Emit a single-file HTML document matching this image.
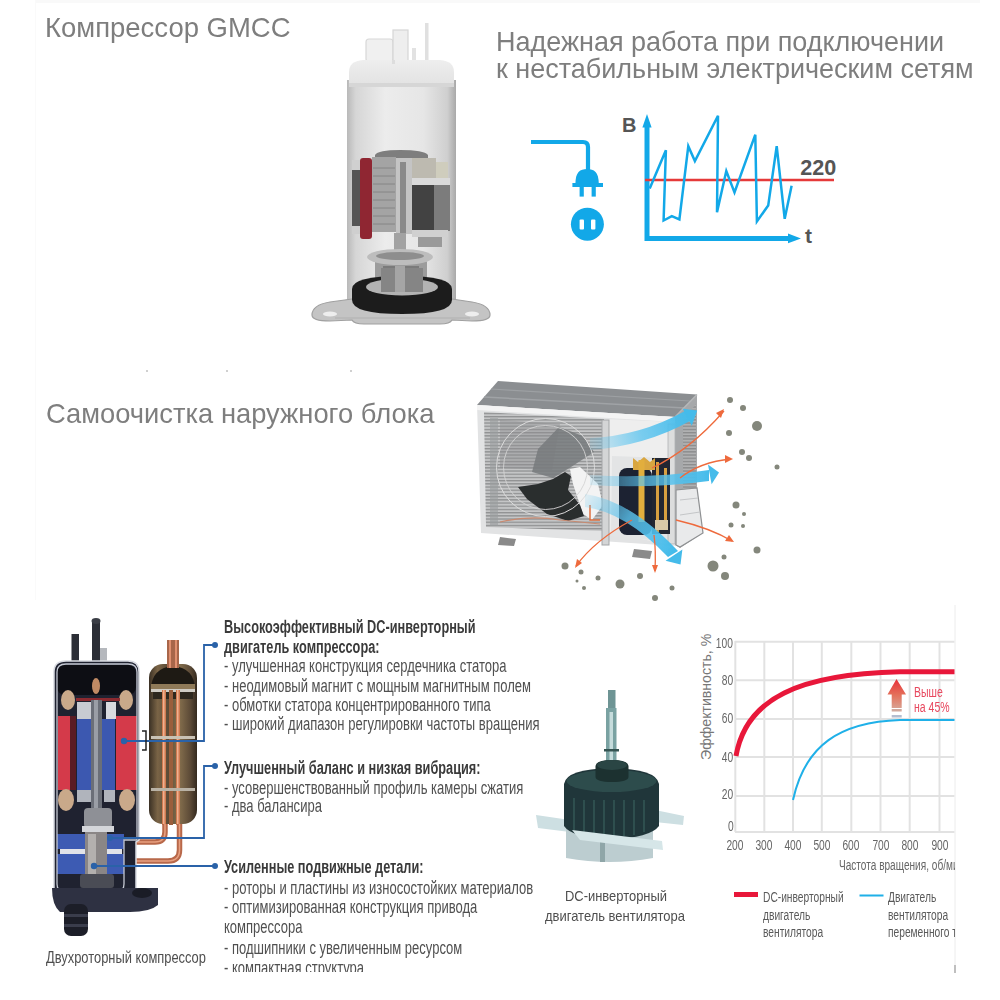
<!DOCTYPE html>
<html><head><meta charset="utf-8">
<style>
html,body{margin:0;padding:0;background:#fff;width:1000px;height:1000px;overflow:hidden;position:relative;font-family:"Liberation Sans",sans-serif;}
.t{position:absolute;white-space:nowrap;line-height:1;}
.title{font-size:28.5px;color:#7e7e7e;}
.nar{transform-origin:0 0;}
.bl{position:absolute;left:224px;white-space:nowrap;font-size:18px;color:#505050;transform:scaleX(0.7235);transform-origin:0 0;line-height:1;}
.bl b{color:#3a3a3a;}
svg{position:absolute;left:0;top:0;}
.ax{position:absolute;right:266.8px;font-size:15.5px;color:#666;line-height:1;transform:scaleX(0.66);transform-origin:100% 0;white-space:nowrap;}
.xl{position:absolute;top:836.5px;width:0;display:flex;justify-content:center;font-size:15.5px;color:#666;line-height:1;white-space:nowrap;}
.xl span{display:inline-block;transform:scaleX(0.66);}
.lg{position:absolute;font-size:14px;color:#5a5a5a;line-height:1;transform:scaleX(0.73);transform-origin:0 0;white-space:nowrap;}
</style></head><body>

<div style="position:absolute;left:35px;top:0;width:945px;height:3px;background:#f9f9f9;"></div>
<div style="position:absolute;left:35px;top:0;width:1px;height:600px;background:#fafafa;"></div>
<div style="position:absolute;left:146px;top:370px;width:2px;height:2px;background:#d0d0d0;"></div>
<div style="position:absolute;left:226px;top:370px;width:2px;height:2px;background:#d0d0d0;"></div>
<div style="position:absolute;left:350px;top:370px;width:2px;height:2px;background:#d0d0d0;"></div>
<!-- Titles -->
<div class="t title" id="t1" style="left:45px;top:13px;transform:scaleX(0.964);transform-origin:0 0;">Компрессор GMCC</div>
<div class="t title" id="t2a" style="left:496px;top:27px;transform:scaleX(0.947);transform-origin:0 0;">Надежная работа при подключении</div>
<div class="t title" id="t2b" style="left:496px;top:54px;transform:scaleX(0.947);transform-origin:0 0;">к нестабильным электрическим сетям</div>
<div class="t title" id="t3" style="left:46px;top:399px;transform:scaleX(0.959);transform-origin:0 0;">Самоочистка наружного блока</div>

<svg width="1000" height="1000" viewBox="0 0 1000 1000" id="main">
  <defs>
    <filter id="soft" x="-5%" y="-5%" width="110%" height="110%"><feGaussianBlur stdDeviation="0.7"/></filter>
    <linearGradient id="cylG" x1="0" y1="0" x2="1" y2="0">
      <stop offset="0" stop-color="#b9b9b9"/>
      <stop offset="0.08" stop-color="#d6d6d6"/>
      <stop offset="0.35" stop-color="#ececec"/>
      <stop offset="0.7" stop-color="#e6e6e6"/>
      <stop offset="0.92" stop-color="#cfcfcf"/>
      <stop offset="1" stop-color="#a9a9a9"/>
    </linearGradient>
    <linearGradient id="capG" x1="0" y1="0" x2="0" y2="1">
      <stop offset="0" stop-color="#eeeeee"/>
      <stop offset="1" stop-color="#e2e2e2"/>
    </linearGradient>
    <linearGradient id="plateG" x1="0" y1="0" x2="0" y2="1">
      <stop offset="0" stop-color="#c9c9c9"/>
      <stop offset="1" stop-color="#a7a7a7"/>
    </linearGradient>
  </defs>
  <!-- ===== compressor photo 1 ===== -->
  <g id="comp1" filter="url(#soft)">
    <!-- pipes on top -->
    <rect x="366" y="39" width="27" height="23" rx="3" fill="#f0f0f0" stroke="#d8d8d8" stroke-width="1.2"/>
    <rect x="393" y="30" width="15" height="32" fill="#eeeeee" stroke="#d6d6d6" stroke-width="1.2"/>
    <rect x="412" y="48" width="4" height="14" fill="#e2e2e2"/>
    <rect x="425" y="23" width="3.5" height="38" fill="#e0e0e0"/>
    <!-- body -->
    <rect x="347" y="80" width="109" height="222" fill="url(#cylG)"/>
    <path d="M349,86 V72 Q349,61 363,60 H440 Q454,61 454,72 V86 Z" fill="url(#capG)"/>
    <rect x="349" y="83" width="105" height="4" fill="#d6d6d6"/>
    <rect x="392" y="60" width="3" height="4" fill="#ddd"/>
    <!-- motor top ring -->
    <path d="M375,155 Q378,150 400,150 Q424,150 428,155 V162 H375 Z" fill="#7e7e7e"/>
    <!-- left coil -->
    <rect x="352" y="160" width="11" height="10" fill="#d0d0d0"/>
    <rect x="352" y="170" width="11" height="57" fill="#555"/>
    <rect x="352" y="226" width="11" height="8" fill="#cfcfcf"/>
    <!-- red strip -->
    <rect x="360" y="158" width="12" height="81" rx="3" fill="#8f2731"/>
        <!-- stator -->
    <rect x="372" y="157" width="24" height="75" fill="#a4a4a4"/>
    <g stroke="#7d7d7d" stroke-width="0.8">
      <line x1="373" y1="168" x2="395" y2="168"/><line x1="373" y1="176" x2="395" y2="176"/>
      <line x1="373" y1="184" x2="395" y2="184"/><line x1="373" y1="192" x2="395" y2="192"/>
      <line x1="373" y1="200" x2="395" y2="200"/><line x1="373" y1="208" x2="395" y2="208"/>
      <line x1="373" y1="216" x2="395" y2="216"/><line x1="373" y1="224" x2="395" y2="224"/>
    </g>
    <rect x="396" y="158" width="17" height="76" fill="#c4c4c4"/>
    <rect x="400" y="162" width="6" height="72" fill="#8a8a8a"/>
    <!-- right coil -->
    <rect x="412" y="158" width="24" height="20" fill="#bdbab0"/>
    <rect x="436" y="162" width="12" height="16" fill="#cfcdbd"/>
    <rect x="412" y="178" width="38" height="7" fill="#dadada"/>
    <rect x="412" y="185" width="22" height="46" fill="#424242"/>
    <rect x="434" y="185" width="16" height="46" fill="#7c7c7c"/>
    <rect x="412" y="230" width="36" height="7" fill="#d0d0d0"/>
    <rect x="418" y="237" width="24" height="10" fill="#9a9a9a"/>
    <!-- shaft and pump -->
    <rect x="394" y="233" width="12" height="30" fill="#a2a2a2"/>
    <rect x="375" y="257" width="52" height="32" fill="#9c9c9c"/>
    <ellipse cx="400" cy="257" rx="33" ry="8" fill="#bdbdbd"/>
    <ellipse cx="400" cy="256" rx="24" ry="4" fill="#8e8e8e"/>
    <rect x="383" y="266" width="36" height="24" fill="#7a7a7a"/>
    <!-- plate -->
    <path d="M312,315 Q312,305 330,302 L352,299 H452 L472,302 Q490,305 490,315 Q490,321 472,321 L452,320 Q450,324 440,324 H364 Q354,324 352,320 L330,321 Q312,321 312,315 Z" fill="#c4c4c4" stroke="#a0a0a0" stroke-width="1.2"/>
    <path d="M335,318 H470" stroke="#b0b0b0" stroke-width="1"/>
    <ellipse cx="330" cy="314" rx="7" ry="2.5" fill="#eeeeee"/>
    <ellipse cx="472" cy="314" rx="7" ry="2.5" fill="#eeeeee"/>
    <!-- black ring -->
    <path d="M352,289 Q352,276 402,276 Q452,276 452,289 V300 Q452,314 402,314 Q352,314 352,300 Z" fill="#1e1e1e"/>
    <ellipse cx="402" cy="287" rx="36" ry="8.5" fill="#b3b3b3"/>
    <rect x="381" y="268" width="42" height="24" fill="#858585"/>
    <rect x="395" y="266" width="10" height="26" fill="#a5a5a5"/>
  </g>

  <!-- ===== outdoor unit ===== -->
  <defs>
    <pattern id="grill" x="0" y="0" width="4" height="3.2" patternUnits="userSpaceOnUse">
      <rect width="4" height="3.2" fill="#c4c5c6"/>
      <rect y="0" width="4" height="1.3" fill="#8f9192"/>
    </pattern>
    <pattern id="grill2" x="0" y="0" width="4" height="3.2" patternUnits="userSpaceOnUse">
      <rect width="4" height="3.2" fill="#b0b1b2"/>
      <rect y="0" width="4" height="1.3" fill="#8a8b8c"/>
    </pattern>
    <linearGradient id="ar1" gradientUnits="userSpaceOnUse" x1="590" y1="445" x2="690" y2="415">
      <stop offset="0" stop-color="#5cc4ef" stop-opacity="0.15"/>
      <stop offset="0.5" stop-color="#5cc4ef" stop-opacity="0.8"/>
      <stop offset="1" stop-color="#44bbea" stop-opacity="1"/>
    </linearGradient>
    <linearGradient id="ar2" gradientUnits="userSpaceOnUse" x1="590" y1="478" x2="710" y2="474">
      <stop offset="0" stop-color="#5cc4ef" stop-opacity="0.15"/>
      <stop offset="0.5" stop-color="#5cc4ef" stop-opacity="0.75"/>
      <stop offset="1" stop-color="#44bbea" stop-opacity="1"/>
    </linearGradient>
    <linearGradient id="ar3" gradientUnits="userSpaceOnUse" x1="585" y1="500" x2="672" y2="555">
      <stop offset="0" stop-color="#5cc4ef" stop-opacity="0.15"/>
      <stop offset="0.45" stop-color="#5cc4ef" stop-opacity="0.8"/>
      <stop offset="1" stop-color="#44bbea" stop-opacity="1"/>
    </linearGradient>
  </defs>
  <g id="odu" filter="url(#soft)">
    <!-- right side panel -->
    <path d="M675,417 L697,395 V490 L703,533 L680,548 L675,545 Z" fill="#a6a8aa"/>
    <path d="M683,420 L696,404 V488 L683,490 Z" fill="url(#grill2)"/>
    <path d="M676,490 L697,488 L703,533 L680,547 L676,545 Z" fill="#e9eaeb" stroke="#8f9193" stroke-width="1.2"/>
    <path d="M680,500 L698,498 M680,515 L700,512" stroke="#c4c6c8" stroke-width="1"/>
    <!-- top slab -->
    <path d="M477,405 L498,381 L697,394.5 L675,417 Z" fill="#8b8e91"/>
    <path d="M484,397 L685,408" stroke="#a0a3a6" stroke-width="1.5"/>
    <path d="M491,389 L690,401" stroke="#9da0a3" stroke-width="1.2"/>
    <path d="M675,417 L697,394.5" stroke="#b5b7b9" stroke-width="1.5"/>
    <!-- front frame -->
    <path d="M477,405 L675,417 L675,546 L481,533 Z" fill="#e2e3e4"/>
    <path d="M477,405 L675,417 L675,422 L477,410 Z" fill="#f4f4f4"/>
    <!-- fan grill -->
    <path d="M484,412 L604,419 L603,531 L486,527 Z" fill="url(#grill)"/>
    <path d="M490,418 L498,418 L498,526 L490,526 Z" fill="#9a9c9e" opacity="0.6"/>
    <path d="M500,420 L560,424 L552,470 L500,468 Z" fill="#8d8f91" opacity="0.45"/>
    <!-- fan blades -->
    <path d="M538,449 L559,427 L583,436 L594,452 L571,467 L553,478 L532,472 Z" fill="#777a7c" opacity="0.85"/>
    <path d="M570,469 L580,467 L598,484 L603,505 L592,520 L583,514 L573,484 Z" fill="#f3f3f3"/>
    <path d="M518,487 L538,484 L553,479 L565,472 L571,476 L568,490 L580,505 L584,516 L568,521 L547,514 L527,499 Z" fill="#2c2d2f"/>
    <circle cx="545.5" cy="467.5" r="49" fill="none" stroke="#dcdcdc" stroke-width="1"/>
    <circle cx="545.5" cy="467.5" r="42" fill="none" stroke="#d4d4d4" stroke-width="0.9"/>
    <!-- bottom pipes -->
    <path d="M500,522 Q530,515 560,520 L600,524" fill="none" stroke="#c98a70" stroke-width="1.2"/>
    <path d="M590,505 V520 H600" fill="none" stroke="#e07040" stroke-width="1.5"/>
    <!-- right compartment -->
    <path d="M604,419 L675,422 L675,546 L603,531 Z" fill="#eeeeee"/>
    <rect x="602" y="420" width="7" height="125" fill="#d4d5d6" stroke="#a3a5a7" stroke-width="1"/>
    <path d="M612,456 L668,458 L668,542 L611,536 Z" fill="#e3e4e5"/>
    <rect x="668" y="424" width="7" height="120" fill="#dcdddd" stroke="#b0b2b4" stroke-width="0.8"/>
    <rect x="619" y="468" width="33" height="67" rx="8" fill="#1b2030"/>
    <rect x="652" y="458" width="18" height="76" fill="#232833"/>
    <path d="M633,470 V458 L638,462 L644,457 L650,462 L655,458 V470 Z" fill="#d9a640"/>
    <rect x="638.5" y="460" width="6" height="62" fill="#e2ae3e"/>
    <rect x="656" y="462" width="3" height="70" fill="#d8a040"/>
    <rect x="664" y="468" width="3" height="60" fill="#d8a040"/>
    <rect x="655" y="520" width="13" height="10" fill="#d8c8a8"/>
    <!-- feet -->
    <path d="M500,537 L516,539 L514,546 L498,545 Z" fill="#8a8a8a"/>
    <path d="M634,549 L652,551 L650,559 L632,557 Z" fill="#8a8a8a"/>
    <!-- blue arrows -->
    <path d="M590,438 Q640,436 685,411 L690,421 Q645,446 590,450 Z" fill="url(#ar1)"/>
    <path d="M682.8,408.7 L697.2,410.5 L691.8,425.8 Z" fill="#44bbea"/>
    <path d="M590,475 Q650,479 709,470 L709,481 Q650,489 590,485 Z" fill="url(#ar2)"/>
    <path d="M708,464.5 L719,472.6 L711.6,484.3 Z" fill="#44bbea"/>
    <path d="M585,494 Q630,500 678,551 L668,557 Q625,512 585,507 Z" fill="url(#ar3)"/>
    <path d="M665.6,560.8 L682.4,549.5 L680.5,564.5 Z" fill="#44bbea"/>
    <!-- orange arrows -->
    <g fill="none" stroke="#ee6a3c" stroke-width="1.3">
      <path d="M652,468 Q690,450 724,411"/>
      <path d="M680,478 Q700,462 731,459"/>
      <path d="M676,520 Q710,528 732,541"/>
      <path d="M632,520 Q595,540 576,566"/>
      <path d="M654,535 Q656,550 655,571"/>
    </g>
    <g fill="#ee6a3c">
      <path d="M724,409 L716,413 L721,418 Z"/>
      <path d="M733,459 L725,455 L725,463 Z"/>
      <path d="M734,542 L725,541 L729,535 Z"/>
      <path d="M575,568 L577,559 L582,563 Z"/>
      <path d="M655,573 L652,565 L658,565 Z"/>
    </g>
    <!-- dust -->
    <g fill="#84877b">
      <circle cx="565" cy="566" r="3.5"/><circle cx="581" cy="572" r="2.5"/><circle cx="577" cy="581" r="1.5"/>
      <circle cx="584" cy="588" r="2"/><circle cx="598" cy="578" r="2.5"/><circle cx="620" cy="584" r="4.5"/>
      <circle cx="640" cy="576" r="3"/><circle cx="655" cy="598" r="3"/><circle cx="672" cy="588" r="2.5"/>
      <circle cx="713" cy="566" r="5.5"/><circle cx="725" cy="576" r="4"/><circle cx="724" cy="557" r="2.5"/>
      <circle cx="757" cy="550" r="3.5"/><circle cx="736" cy="505" r="3.5"/><circle cx="744" cy="514" r="2"/>
      <circle cx="731" cy="525" r="2.5"/><circle cx="743" cy="526" r="2"/>
      <circle cx="730" cy="400" r="3"/><circle cx="743" cy="408" r="3"/><circle cx="757" cy="426" r="5"/>
      <circle cx="729" cy="433" r="3"/><circle cx="742" cy="452" r="3"/><circle cx="749" cy="458" r="3"/>
      <circle cx="777" cy="467" r="2.5"/>
    </g>
  </g>

  <!-- ===== compressor cutaway ===== -->
  <g id="comp2">
    <!-- top pipes -->
    <rect x="71.5" y="634" width="7.5" height="28" fill="#2b2e36"/>
    <rect x="92" y="622" width="8" height="40" fill="#2b2e36"/>
    <ellipse cx="96" cy="621" rx="4.5" ry="3" fill="#3a3d45"/>
    <rect x="100" y="648" width="7" height="14" fill="#b5b8bd"/>
    <!-- accumulator -->
    <defs>
      <linearGradient id="accG" x1="0" y1="0" x2="1" y2="0">
        <stop offset="0" stop-color="#3a3024"/>
        <stop offset="0.18" stop-color="#7a6446"/>
        <stop offset="0.4" stop-color="#5a4a36"/>
        <stop offset="0.62" stop-color="#86704e"/>
        <stop offset="0.85" stop-color="#5e4c38"/>
        <stop offset="1" stop-color="#33291e"/>
      </linearGradient>
    </defs>
    <rect x="149" y="664" width="48" height="160" rx="14" fill="url(#accG)"/>
    <path d="M151,690 Q151,668 173,666 Q195,668 195,690 Z" fill="#1e1a14"/>
    <rect x="151" y="684" width="44" height="5" fill="#8f7a58"/>
    <rect x="151" y="689" width="44" height="3" fill="#d0ccc4"/>
    <rect x="153" y="692" width="40" height="7" fill="#2e281e"/>
    <rect x="162" y="690" width="4" height="135" fill="#d07a50"/>
    <rect x="163" y="690" width="1.5" height="135" fill="#f0b090"/>
    <rect x="176" y="690" width="4" height="135" fill="#d07a50"/>
    <rect x="177" y="690" width="1.5" height="135" fill="#f0b090"/>
    <rect x="169" y="690" width="4" height="135" fill="#9a5e3c"/>
    <rect x="167" y="640" width="12" height="28" fill="#a8664a"/>
    <rect x="169" y="640" width="2" height="28" fill="#e09070"/>
    <rect x="175" y="640" width="2" height="28" fill="#e09070"/>
    <rect x="151" y="736" width="44" height="3" fill="#c9c2b5"/>
    <rect x="151" y="788" width="44" height="3" fill="#b9b2a5"/>
    <!-- pipes down -->
    <path d="M165,824 V832 Q165,842 155,842 H136" fill="none" stroke="#b8684a" stroke-width="5.5"/>
    <path d="M165,824 V832 Q165,842 155,842 H136" fill="none" stroke="#e8a080" stroke-width="1.5"/>
    <path d="M179.5,824 V850 Q179.5,861 168,861 H136" fill="none" stroke="#b8684a" stroke-width="5.5"/>
    <path d="M179.5,824 V850 Q179.5,861 168,861 H136" fill="none" stroke="#e8a080" stroke-width="1.5"/>
    <!-- shell -->
    <path d="M54,672 Q54,661 66,661 H128 Q139,661 139,672 V840 L136,842 V890 Q136,898 128,898 H62 Q54,898 54,890 Z" fill="#1f2230" stroke="#d9dbe2" stroke-width="1.5"/>
    <!-- inside top dark -->
    <rect x="57" y="665" width="79" height="30" rx="8" fill="#0d0e14"/>
    <!-- windings -->
    <ellipse cx="68" cy="700" rx="7" ry="10" fill="#c9a98a"/>
    <ellipse cx="126" cy="700" rx="7" ry="10" fill="#c9a98a"/>
    <ellipse cx="96" cy="686" rx="4" ry="8" fill="#c08a64"/>
    <rect x="76" y="698" width="44" height="3" fill="#8c2a30"/>
    <!-- light blocks above rotor -->
    <rect x="77" y="702" width="14" height="17" fill="#c8cbd2"/>
    <rect x="106" y="702" width="10" height="17" fill="#d8dadf"/>
    <!-- stators and rotor -->
    <rect x="58" y="716" width="12" height="74" fill="#d43a4a"/>
    <rect x="70" y="716" width="6" height="74" fill="#5a1c24"/>
    <rect x="77" y="719" width="14" height="71" fill="#3c58b0"/>
    <rect x="91" y="700" width="11" height="122" fill="#6b6f78"/>
    <rect x="94" y="700" width="4" height="122" fill="#9a9ea6"/>
    <rect x="102" y="719" width="13" height="71" fill="#3c58b0"/>
    <rect x="116" y="716" width="21" height="74" fill="#d43a4a"/>
    <!-- bottom windings -->
    <rect x="77" y="790" width="14" height="12" fill="#b0b4bc"/>
    <rect x="104" y="790" width="11" height="12" fill="#b0b4bc"/>
    <ellipse cx="66" cy="800" rx="8" ry="11" fill="#c9a98a"/>
    <ellipse cx="127" cy="800" rx="8" ry="11" fill="#c9a98a"/>
    <!-- crankshaft area -->
    <rect x="84" y="808" width="28" height="20" rx="4" fill="#8e9096"/>
    <rect x="82" y="826" width="32" height="6" fill="#d4d6da"/>
    <!-- pump blue -->
    <rect x="57" y="834" width="67" height="15" fill="#3d5bb3"/>
    <rect x="60" y="849" width="62" height="5" fill="#e1e3e8"/>
    <rect x="57" y="854" width="67" height="20" fill="#3d5bb3"/>
    <rect x="85" y="832" width="22" height="44" fill="#8a8686"/>
    <rect x="88" y="834" width="8" height="40" fill="#b3b0ae"/>
    <rect x="80" y="874" width="34" height="14" rx="3" fill="#4a4c55"/>
    <!-- inner cutaway outline -->
    <path d="M57,672 Q57,664 66,664 H128 Q137,664 137,672 V840 H124 V884 Q124,892 116,892 H65 Q57,892 57,884 Z" fill="none" stroke="#c5c9d3" stroke-width="1.3"/>
    <!-- base -->
    <path d="M52,888 H158 V905 Q150,912 130,912 H60 Q52,905 52,888 Z" fill="#2e3142"/>
    <ellipse cx="142" cy="893" rx="10" ry="5" fill="#1a1c26"/>
    <rect x="64" y="904" width="24" height="32" rx="7" fill="#1c1e28"/>
    <rect x="64" y="914" width="24" height="3" fill="#3a3d4c"/>
    <rect x="64" y="924" width="24" height="3" fill="#3a3d4c"/>
  </g>

  <!-- ===== fan motor ===== -->
  <g id="fan">
    <rect x="608" y="690" width="7.5" height="20" fill="#6e9494"/>
    <rect x="606" y="708" width="10.5" height="56" fill="#7aa2a2"/>
    <rect x="609.5" y="712" width="3.5" height="50" fill="#c6dcdc"/>
    <rect x="604" y="749" width="15" height="2.5" fill="#355452"/>
    <!-- bracket left/right -->
    <path d="M536,815 L570,820 L570,832 L538,828 Z" fill="#cddfe2"/>
    <path d="M655,810 L684,816 L683,825 L655,822 Z" fill="#cddfe2"/>
    <!-- silver bottom -->
    <path d="M566,828 H653 V858 Q610,866 566,858 Z" fill="#bccdd0"/>
    <rect x="600" y="836" width="5" height="26" fill="#8fa6a8"/>
    <!-- body -->
    <path d="M564,784 Q566,769 611,768 Q657,769 659,784 V826 Q650,838 611,839 Q572,838 564,826 Z" fill="#20363a"/>
    <ellipse cx="611.5" cy="781" rx="45" ry="11" fill="#2d4c4c"/>
    <!-- hub -->
    <path d="M595.5,766 Q596,760 612,760 Q628,760 628.5,766 V777 Q628,782 612,782 Q596,782 595.5,777 Z" fill="#1c3130"/>
    <ellipse cx="612" cy="765" rx="15" ry="5" fill="#2a4544"/>
    <!-- fins -->
    <g stroke="#355a58" stroke-width="1.4">
      <line x1="574" y1="798" x2="574" y2="830"/><line x1="584" y1="800" x2="584" y2="834"/>
      <line x1="594" y1="800" x2="594" y2="836"/><line x1="604" y1="800" x2="604" y2="837"/>
      <line x1="614" y1="800" x2="614" y2="837"/><line x1="624" y1="800" x2="624" y2="836"/>
      <line x1="634" y1="800" x2="634" y2="835"/><line x1="644" y1="800" x2="644" y2="832"/>
    </g>
    <!-- crossbar -->
    <path d="M572,830 L662,841 L663,850 L580,840 Z" fill="#d6e6e8"/>
  </g>

  <!-- plug icon -->
  <g fill="none" stroke="#12a8e8" stroke-width="4.2">
    <path d="M531,142 H583 Q588,142 588,147 V171"/>
  </g>
  <g fill="#12a8e8">
    <path d="M575.4,184 C575.4,172 580,169 587.1,169 C594,169 598.8,172 598.8,184 Z"/>
    <rect x="572.4" y="183" width="30.6" height="4" />
    <rect x="579.6" y="186" width="4.2" height="10.6"/>
    <rect x="591.6" y="186" width="4.2" height="10.6"/>
    <circle cx="587.4" cy="224.2" r="16.5"/>
  </g>
  <g fill="#fff">
    <rect x="579.6" y="219.4" width="4.4" height="10.2" rx="1"/>
    <rect x="591" y="219.4" width="4.4" height="10.2" rx="1"/>
  </g>
  <!-- voltage chart -->
  <g stroke="#12a8e8" stroke-width="5" fill="none">
    <path d="M647,125 V238.4 H792"/>
  </g>
  <g fill="#12a8e8">
    <path d="M647,114 L642.4,127.5 H651.6 Z"/>
    <path d="M801,238.4 L788,233.6 V243.2 Z"/>
  </g>
  <line x1="645" y1="180" x2="834" y2="180" stroke="#e53a3a" stroke-width="2.5"/>
  <polyline fill="none" stroke="#12a8e8" stroke-width="2.5" stroke-linejoin="miter" points="649.7,188.4 665.9,150.2 663.6,220.5 671.8,216.2 679.4,219.5 688.3,146.2 694.9,161.1 718.0,115.8 717.0,212.2 726.3,171.0 734.5,192.4 755.3,134.7 756.9,221.4 768.2,205.6 776.7,146.2 784.7,218.8 791.6,185.8"/>
  <text x="622" y="131.5" font-family="Liberation Sans" font-weight="bold" font-size="20" fill="#555">В</text>
  <text x="805" y="242.7" font-family="Liberation Sans" font-weight="bold" font-size="21" fill="#555">t</text>
  <text x="800.3" y="175.3" font-family="Liberation Sans" font-weight="bold" font-size="21.5" fill="#555" textLength="36" lengthAdjust="spacingAndGlyphs">220</text>

  <!-- blue connectors bottom -->
  <g stroke="#2a62a8" stroke-width="1.8" fill="none">
    <path d="M124,741 H204 V645 H214"/>
    <path d="M110,838 H204 V766 H214"/>
    <path d="M94,866 H214"/>
  </g>
  <path d="M142,731 H146 V750 H142" fill="none" stroke="#222" stroke-width="1.5"/>
  <g fill="#2a62a8">
    <circle cx="215" cy="645" r="3"/>
    <circle cx="215" cy="766" r="3"/>
    <circle cx="215" cy="866" r="3"/>
    <circle cx="124" cy="741" r="3.2"/>
    <circle cx="94" cy="866" r="3.2"/>
    <circle cx="110" cy="838" r="3"/>
  </g>

  <!-- efficiency chart -->
  <g stroke="#e2e2e2" stroke-width="2">
    <line x1="735" y1="641.7" x2="954.5" y2="641.7"/>
    <line x1="735" y1="680.3" x2="954.5" y2="680.3"/>
    <line x1="735" y1="719" x2="954.5" y2="719"/>
    <line x1="735" y1="757" x2="954.5" y2="757"/>
    <line x1="735" y1="796" x2="954.5" y2="796"/>
    <line x1="735" y1="832" x2="954.5" y2="832"/>
    <line x1="735.3" y1="641" x2="735.3" y2="832"/>
    <line x1="764.3" y1="641" x2="764.3" y2="832"/>
    <line x1="793" y1="641" x2="793" y2="832"/>
    <line x1="821.8" y1="641" x2="821.8" y2="832"/>
    <line x1="851.3" y1="641" x2="851.3" y2="832"/>
    <line x1="880.5" y1="641" x2="880.5" y2="832"/>
    <line x1="909.7" y1="641" x2="909.7" y2="832"/>
    <line x1="939.5" y1="641" x2="939.5" y2="832"/>
  </g>
  <line x1="955" y1="605" x2="955" y2="973" stroke="#ececec" stroke-width="1"/>
  <rect x="954.3" y="965" width="1.4" height="8" fill="#a8a8a8"/>
  <path d="M736,756 C746,698 800,674 900,671.8 L954.5,671.8" fill="none" stroke="#e8173a" stroke-width="5"/>
  <path d="M793,800 C805,745 840,722 900,720 L954.5,720" fill="none" stroke="#1fb0e8" stroke-width="2"/>
  <defs>
    <linearGradient id="arr" x1="0" y1="0" x2="0" y2="1">
      <stop offset="0" stop-color="#e8303a"/>
      <stop offset="0.55" stop-color="#e4705a"/>
      <stop offset="1" stop-color="#d9a090"/>
    </linearGradient>
  </defs>
  <path d="M896.5,679 L906,694.5 H901.7 V708 H891.7 V694.5 H887.5 Z" fill="url(#arr)"/>
  <rect x="891.7" y="709" width="10" height="2.5" fill="#d0a89c"/>
  <rect x="891.7" y="715" width="10" height="2.5" fill="#b4bed0"/>
  <!-- legend bars -->
  <rect x="734" y="892" width="24" height="5" fill="#e8173a"/>
  <rect x="859.5" y="894.5" width="24" height="2" fill="#1fb0e8"/>
</svg>

<!-- bullet text -->
<div class="bl" style="top:618px;transform:scaleX(0.707);"><b>Высокоэффективный DC-инверторный</b></div>
<div class="bl" style="top:638px;transform:scaleX(0.707);"><b>двигатель компрессора:</b></div>
<div class="bl" style="top:657px;">- улучшенная конструкция сердечника статора</div>
<div class="bl" style="top:677px;">- неодимовый магнит с мощным магнитным полем</div>
<div class="bl" style="top:696px;">- обмотки статора концентрированного типа</div>
<div class="bl" style="top:715px;">- широкий диапазон регулировки частоты вращения</div>
<div class="bl" style="top:759px;transform:scaleX(0.707);"><b>Улучшенный баланс и низкая вибрация:</b></div>
<div class="bl" style="top:779px;">- усовершенствованный профиль камеры сжатия</div>
<div class="bl" style="top:797px;">- два балансира</div>
<div class="bl" style="top:858px;transform:scaleX(0.707);"><b>Усиленные подвижные детали:</b></div>
<div class="bl" style="top:879px;">- роторы и пластины из износостойких материалов</div>
<div class="bl" style="top:898px;">- оптимизированная конструкция привода</div>
<div class="bl" style="top:918px;">компрессора</div>
<div class="bl" style="top:939px;">- подшипники с увеличенным ресурсом</div>
<div style="position:absolute;left:0;top:0;width:1000px;height:972px;overflow:hidden;pointer-events:none;">
<div class="bl" style="top:959px;">- компактная структура</div>
</div>

<!-- captions -->
<div class="t cap" style="left:46px;top:949px;font-size:17px;color:#4e4e4e;transform:scaleX(0.758);transform-origin:0 0;">Двухроторный компрессор</div>
<div class="t cap" style="left:565px;top:888px;font-size:15px;color:#4e4e4e;transform:scaleX(0.862);transform-origin:0 0;">DC-инверторный</div>
<div class="t cap" style="left:545px;top:908px;font-size:15px;color:#4e4e4e;transform:scaleX(0.865);transform-origin:0 0;">двигатель вентилятора</div>

<!-- chart labels -->
<div class="ax" style="top:634.5px;">100</div>
<div class="ax" style="top:672.3px;">80</div>
<div class="ax" style="top:710.4px;">60</div>
<div class="ax" style="top:748.6px;">40</div>
<div class="ax" style="top:786.1px;">20</div>
<div class="ax" style="top:818.3px;">0</div>
<div class="xl" style="left:734.8px;"><span>200</span></div>
<div class="xl" style="left:764.3px;"><span>300</span></div>
<div class="xl" style="left:793px;"><span>400</span></div>
<div class="xl" style="left:821.8px;"><span>500</span></div>
<div class="xl" style="left:851.3px;"><span>600</span></div>
<div class="xl" style="left:880.5px;"><span>700</span></div>
<div class="xl" style="left:909.7px;"><span>800</span></div>
<div class="xl" style="left:939.5px;"><span>900</span></div>
<div style="position:absolute;left:0;top:0;width:955px;height:1000px;overflow:hidden;">
<div class="t" style="left:839px;top:858px;font-size:14px;color:#666;transform:scaleX(0.72);transform-origin:0 0;">Частота вращения, об/мин</div>
<div class="lg" style="left:887.5px;top:890px;">Двигатель</div>
<div class="lg" style="left:887.5px;top:907.5px;">вентилятора</div>
<div class="lg" style="left:887.5px;top:925px;">переменного тока</div>
</div>
<div class="lg" style="left:763px;top:890px;">DC-инверторный</div>
<div class="lg" style="left:763px;top:907.5px;">двигатель</div>
<div class="lg" style="left:763px;top:925px;">вентилятора</div>
<div class="t" style="left:914px;top:685px;font-size:14px;color:#e8485e;transform:scaleX(0.75);transform-origin:0 0;line-height:15px;">Выше<br>на 45%</div>
<div class="t" style="left:698px;top:760px;font-size:15px;color:#777;transform:rotate(-90deg) scaleX(0.94);transform-origin:0 0;">Эффективность, %</div>

</body></html>
